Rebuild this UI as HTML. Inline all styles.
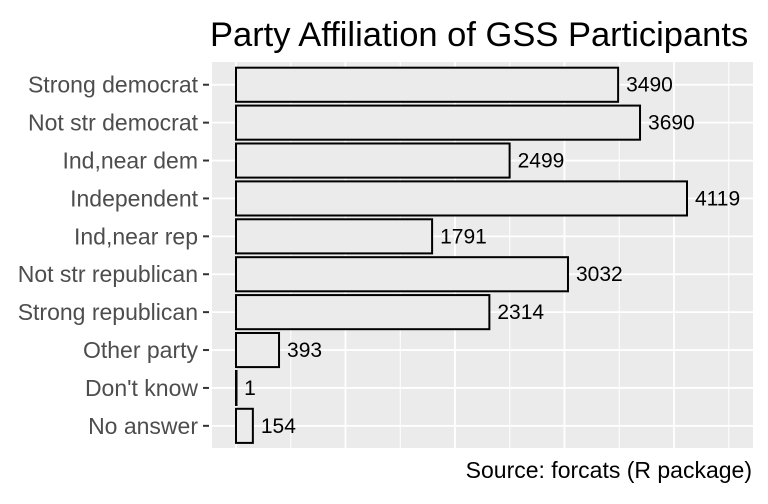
<!DOCTYPE html>
<html><head><meta charset="utf-8"><style>
body{margin:0;background:#fff;font-family:"Liberation Sans",Arial,sans-serif}
</style></head><body>
<svg width="768" height="499" viewBox="0 0 768 499" xmlns="http://www.w3.org/2000/svg">
<rect width="768" height="499" fill="#fff"/>
<text x="210" y="46" font-size="34.5" fill="#000">Party Affiliation of GSS Participants</text>
<rect x="212" y="62" width="541" height="386" fill="#ebebeb"/>
<g id="grid"></g>
<g id="bars"></g>
<g id="ylab"></g>
<text x="752" y="478" font-size="23" text-anchor="end" fill="#000">Source: forcats (R package)</text>
</svg>
<script>
const categories=["Strong democrat","Not str democrat","Ind,near dem","Independent","Ind,near rep","Not str republican","Strong republican","Other party","Don't know","No answer"];
const counts=[3490,3690,2499,4119,1791,3032,2314,393,1,154];
const NS="http://www.w3.org/2000/svg";
const x0=236, pxPerUnit=(687-236)/4119, panelTop=62, step=37.9, panelR=753, panelB=448;
const x=v=>x0+v*pxPerUnit;
const y=i=>panelTop+(0.6+i)*step;
function mk(t,a,p){const e=document.createElementNS(NS,t);for(const k in a)e.setAttribute(k,a[k]);p.appendChild(e);return e;}
const grid=document.getElementById('grid'),bars=document.getElementById('bars'),yl=document.getElementById('ylab');
for(let v=0;x(v)<panelR;v+=500){
 const l=mk('line',{x1:x(v),x2:x(v),y1:panelTop,y2:panelB,stroke:'#fff','stroke-width':v%1000?1:1.8},grid);
 
 
}
categories.forEach((c,i)=>{
 const g=mk('line',{x1:212,x2:panelR,y1:y(i),y2:y(i),stroke:'#fff','stroke-width':1.8},grid);
 
 
 const h=step*0.9;
 const r=mk('rect',{x:x(0),y:y(i)-h/2,width:Math.max(x(counts[i])-x(0),0.5),height:h,fill:'#ebebeb',stroke:'#000','stroke-width':2},bars);
 
 
 const t=mk('text',{x:x(counts[i])+8,y:y(i)+7,'font-size':21,fill:'#000'},bars);
 t.textContent=counts[i];
 
 
 const k=mk('line',{x1:203,x2:209,y1:y(i),y2:y(i),stroke:'#333','stroke-width':2},yl);
 
 
 const lt=mk('text',{x:198,y:y(i)+8,'font-size':23,fill:'#4d4d4d','text-anchor':'end'},yl);
 lt.textContent=c;
 
 
});
</script>
</body></html>
